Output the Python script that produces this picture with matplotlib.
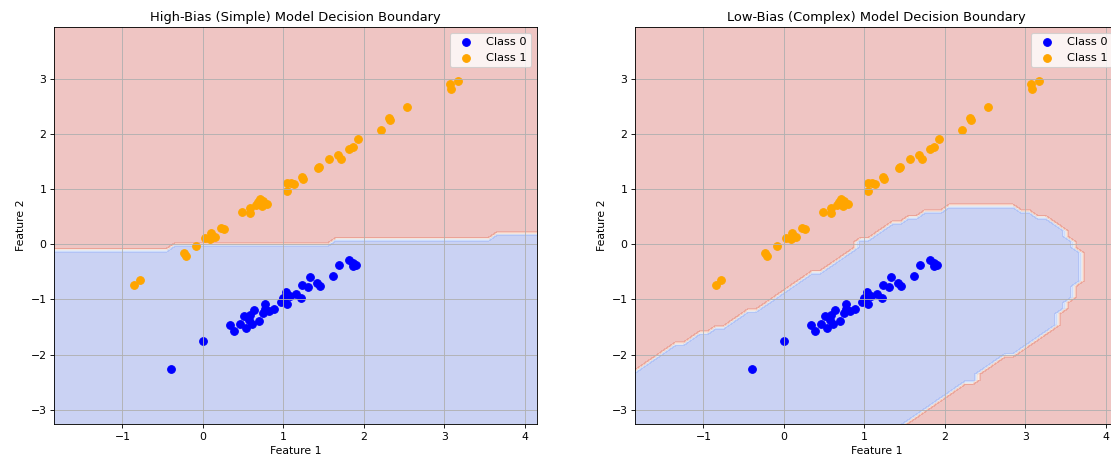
import numpy as np
import matplotlib
matplotlib.use('Agg')
from matplotlib import pyplot as plt
from matplotlib.path import Path

# points
class0_x = [-0.40, 0.00, 0.34, 0.38, 0.46, 0.51, 0.53, 0.57, 0.58, 0.61, 0.63, 0.70, 0.75, 0.77, 0.77, 0.82, 0.88, 0.97,
            0.99, 1.01, 1.03, 1.05, 1.08, 1.16, 1.22, 1.23, 1.30, 1.33, 1.42, 1.45, 1.62, 1.69, 1.82, 1.86, 1.87, 1.90]
class0_y = [-2.26, -1.75, -1.46, -1.58, -1.45, -1.30, -1.52, -1.38, -1.28, -1.45, -1.20, -1.39, -1.24, -1.08, -1.18, -1.21, -1.17, -1.04,
            -0.97, -1.03, -0.86, -1.09, -0.94, -0.90, -0.97, -0.74, -0.77, -0.60, -0.70, -0.76, -0.58, -0.37, -0.29, -0.34, -0.40, -0.37]

class1_x = [-0.85, -0.78, -0.23, -0.21, -0.08, 0.02, 0.09, 0.10, 0.11, 0.15, 0.22, 0.26, 0.49, 0.58, 0.59, 0.66, 0.69, 0.71, 0.73, 0.75, 0.80,
            1.04, 1.05, 1.09, 1.13, 1.23, 1.24, 1.43, 1.44, 1.57, 1.68, 1.71, 1.81, 1.86, 1.93, 2.21, 2.31, 2.32, 2.54, 3.07, 3.08, 3.17]
class1_y = [-0.74, -0.64, -0.15, -0.22, -0.04, 0.11, 0.09, 0.20, 0.13, 0.13, 0.29, 0.28, 0.59, 0.56, 0.65, 0.71, 0.76, 0.82, 0.70, 0.79, 0.73,
            1.11, 0.96, 1.11, 1.09, 1.22, 1.18, 1.38, 1.40, 1.54, 1.62, 1.55, 1.73, 1.77, 1.90, 2.08, 2.29, 2.25, 2.49, 2.90, 2.82, 2.96]

# simple model: straight boundary, class 1 above
simple_bx = [-1.86, 4.20]
simple_by = [-0.137, 0.173]

# complex model: region of class 0 (polygon)
complex_bx = [-1.95, -1.85, -1.38, -1.25, -1.05, -0.96, -0.84, -0.76, -0.47, -0.34, -0.14, 0.44, 0.48, 0.93, 1.11, 1.26, 1.42,
              1.55, 1.72, 1.82, 2.01, 2.13, 2.84, 2.96, 3.09, 3.21, 3.38, 3.52, 3.67, 3.69, 3.69, 3.58, 3.58, 3.48, 3.42, 3.38,
              2.82, 2.67, 2.32, 2.21, 1.76, 1.51, 1.40, -1.78, -1.95]
complex_by = [-2.32, -2.26, -1.81, -1.81, -1.60, -1.60, -1.48, -1.48, -1.21, -1.21, -0.99, -0.48, -0.48, 0.03, 0.19, 0.30, 0.40,
              0.45, 0.54, 0.57, 0.63, 0.69, 0.69, 0.60, 0.57, 0.48, 0.33, 0.18, -0.15, -0.18, -0.63, -0.75, -1.02, -1.11, -1.30, -1.45,
              -1.99, -2.11, -2.50, -2.53, -2.98, -3.21, -3.40, -3.40, -3.20]

titles = ['High-Bias (Simple) Model Decision Boundary', 'Low-Bias (Complex) Model Decision Boundary']

all_x = np.array(class0_x + class1_x)
all_y = np.array(class0_y + class1_y)
x_min, x_max = all_x.min() - 1, all_x.max() + 1
y_min, y_max = all_y.min() - 1, all_y.max() + 1
h = 0.1
xx, yy = np.meshgrid(np.arange(x_min, x_max, h), np.arange(y_min, y_max, h))

Z_simple = (yy > np.interp(xx, simple_bx, simple_by)).astype(int)
poly = Path(np.column_stack([complex_bx, complex_by]))
Z_complex = (~poly.contains_points(np.c_[xx.ravel(), yy.ravel()])).astype(int).reshape(xx.shape)

fig = plt.figure(figsize=(1111 / 78, 466 / 78), dpi=78)
ax1 = fig.add_axes([54 / 1111, 42 / 466, 483 / 1111, 397 / 466])
ax2 = fig.add_axes([635 / 1111, 42 / 466, 483 / 1111, 397 / 466])

for ax, Z, title in zip([ax1, ax2], [Z_simple, Z_complex], titles):
    ax.contourf(xx, yy, Z, alpha=0.3, cmap='coolwarm')
    ax.scatter(class0_x, class0_y, c='blue', s=50, label='Class 0')
    ax.scatter(class1_x, class1_y, c='orange', s=50, label='Class 1')
    ax.set_title(title)
    ax.set_xlabel('Feature 1')
    ax.set_ylabel('Feature 2')
    ax.legend(loc='upper right', fontsize=10.5)
    ax.grid(True)

fig.savefig('out.png', dpi=78)
